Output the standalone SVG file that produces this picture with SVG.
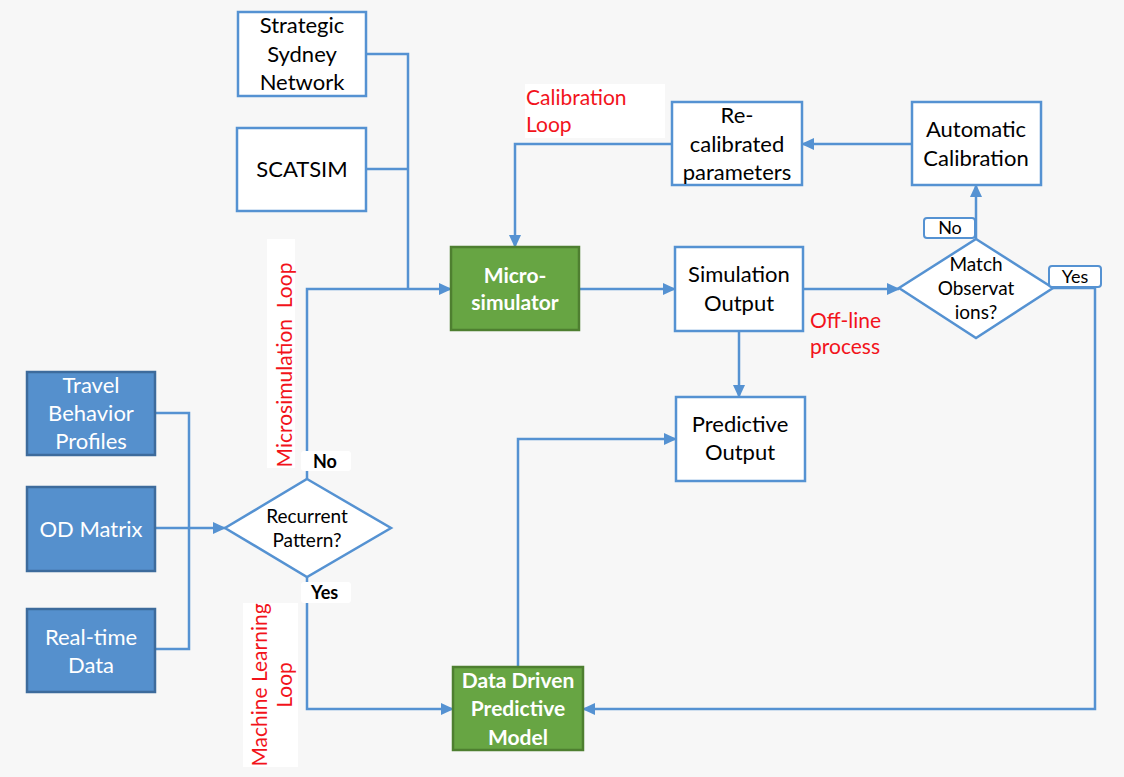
<svg xmlns="http://www.w3.org/2000/svg" width="1124" height="777" viewBox="0 0 1124 777">
<defs>
<marker id="arr" markerWidth="14" markerHeight="14" refX="12" refY="7" orient="auto" markerUnits="userSpaceOnUse">
<path d="M0,1 L13,7 L0,13 Z" fill="#5592d2"/>
</marker>
<style>
.bg{fill:#f7f7f7}
.wbox{fill:#ffffff;stroke:#5592d2;stroke-width:2.5}
.gbox{fill:#67a543;stroke:#4e7f30;stroke-width:2.5}
.bbox{fill:#5590cd;stroke:#3d6b9c;stroke-width:2.5}
.dia{fill:#ffffff;stroke:#5592d2;stroke-width:2.5}
.tag{fill:#ffffff;stroke:#5592d2;stroke-width:2}
.lbg{fill:#ffffff}
.c{fill:none;stroke:#5592d2;stroke-width:2.5}
text{font-family:Lato,"Open Sans",sans-serif;text-anchor:middle}
.t{font-size:22px;fill:#000}
.tw{font-size:22px;fill:#fff}
.tb{font-size:21px;fill:#fff;font-weight:bold}
.td{font-size:19px;fill:#000}
.red{font-size:21px;fill:#f2131b}
.lab{font-size:18px;fill:#000;font-weight:bold;text-anchor:start}
.labn{font-size:18px;fill:#000;text-anchor:middle}
</style>
</defs>
<rect class="bg" x="0" y="0" width="1124" height="777"/>

<g id="connectors">
<path class="c" d="M366,54 H408 V288"/>
<path class="c" d="M366,169 H408"/>
<path class="c" d="M307,479 V289 H451" marker-end="url(#arr)"/>
<path class="c" d="M672,144 H515 V247" marker-end="url(#arr)"/>
<path class="c" d="M912,144 H802" marker-end="url(#arr)"/>
<path class="c" d="M976,239 V185" marker-end="url(#arr)"/>
<path class="c" d="M579,289 H675" marker-end="url(#arr)"/>
<path class="c" d="M803,289 H899" marker-end="url(#arr)"/>
<path class="c" d="M739,331 V397" marker-end="url(#arr)"/>
<path class="c" d="M1053,288 H1095 V709 H583" marker-end="url(#arr)"/>
<path class="c" d="M518,667 V439 H676" marker-end="url(#arr)"/>
<path class="c" d="M155,413 H189 V649 H155"/>
<path class="c" d="M155,528 H225" marker-end="url(#arr)"/>
<path class="c" d="M307,577 V709 H453" marker-end="url(#arr)"/>
</g>

<g id="strategic">
<rect class="wbox" x="238" y="12" width="128" height="84"/>
<text class="t" x="302" y="33">Strategic</text>
<text class="t" x="302" y="62">Sydney</text>
<text class="t" x="302" y="90">Network</text>
</g>
<g id="scatsim">
<rect class="wbox" x="237" y="128" width="129" height="83"/>
<text class="t" x="302" y="177">SCATSIM</text>
</g>
<g id="microsim">
<rect class="gbox" x="451" y="247" width="128" height="83"/>
<text class="tb" x="515" y="283">Micro-</text>
<text class="tb" x="515" y="310">simulator</text>
</g>
<g id="recal">
<rect class="wbox" x="672" y="102" width="130" height="83"/>
<text class="t" x="737" y="123">Re-</text>
<text class="t" x="737" y="152">calibrated</text>
<text class="t" x="737" y="180">parameters</text>
</g>
<g id="autocal">
<rect class="wbox" x="912" y="102" width="129" height="83"/>
<text class="t" x="976" y="137">Automatic</text>
<text class="t" x="976" y="166">Calibration</text>
</g>
<g id="simout">
<rect class="wbox" x="675" y="247" width="128" height="84"/>
<text class="t" x="739" y="282">Simulation</text>
<text class="t" x="739" y="311">Output</text>
</g>
<g id="match">
<polygon class="dia" points="976,239 1053,288 976,338 899,288"/>
<text class="td" x="976" y="271">Match</text>
<text class="td" x="976" y="295">Observat</text>
<text class="td" x="976" y="319">ions?</text>
</g>
<g id="no-tag">
<rect class="tag" x="924" y="218" width="51" height="20" rx="3"/>
<text class="labn" x="950" y="234">No</text>
</g>
<g id="yes-tag">
<rect class="tag" x="1049" y="266" width="52" height="21" rx="3"/>
<text class="labn" x="1075" y="283">Yes</text>
</g>
<g id="predout">
<rect class="wbox" x="676" y="397" width="129" height="84"/>
<text class="t" x="740" y="432">Predictive</text>
<text class="t" x="740" y="460">Output</text>
</g>
<g id="datadriven">
<rect class="gbox" x="453" y="667" width="130" height="83"/>
<text class="tb" x="518" y="688">Data Driven</text>
<text class="tb" x="518" y="716">Predictive</text>
<text class="tb" x="518" y="745">Model</text>
</g>
<g id="travel">
<rect class="bbox" x="27" y="372" width="128" height="83"/>
<text class="tw" x="91" y="393">Travel</text>
<text class="tw" x="91" y="421">Behavior</text>
<text class="tw" x="91" y="449">Profiles</text>
</g>
<g id="odmatrix">
<rect class="bbox" x="27" y="487" width="128" height="84"/>
<text class="tw" x="91" y="537">OD Matrix</text>
</g>
<g id="realtime">
<rect class="bbox" x="27" y="609" width="128" height="83"/>
<text class="tw" x="91" y="645">Real-time</text>
<text class="tw" x="91" y="673">Data</text>
</g>
<g id="recurrent">
<polygon class="dia" points="307,479 391,528 307,577 225,528"/>
<text class="td" x="307" y="523">Recurrent</text>
<text class="td" x="307" y="547">Pattern?</text>
</g>
<g id="no-label">
<rect class="lbg" x="301" y="451" width="50" height="20" rx="3"/>
<text class="lab" x="313" y="468">No</text>
</g>
<g id="yes-label">
<rect class="lbg" x="301" y="582" width="50" height="21" rx="3"/>
<text class="lab" x="311" y="599">Yes</text>
</g>
<g id="calib-loop-label">
<rect class="lbg" x="525" y="84" width="140" height="54"/>
<text class="red" x="526" y="105" style="text-anchor:start">Calibration</text>
<text class="red" x="526" y="132" style="text-anchor:start">Loop</text>
</g>
<g id="offline-label">
<text class="red" x="810" y="328" style="text-anchor:start">Off-line</text>
<text class="red" x="810" y="354" style="text-anchor:start">process</text>
</g>
<g id="microsim-loop-label">
<rect class="lbg" x="267" y="239" width="28" height="229"/>
<text class="red" transform="translate(292,365) rotate(-90)" x="0" y="0" xml:space="preserve">Microsimulation  Loop</text>
</g>
<g id="ml-loop-label">
<rect class="lbg" x="243" y="603" width="55" height="164"/>
<text class="red" transform="translate(267,685) rotate(-90)" x="0" y="0">Machine Learning</text>
<text class="red" transform="translate(292,685) rotate(-90)" x="0" y="0">Loop</text>
</g>
</svg>
